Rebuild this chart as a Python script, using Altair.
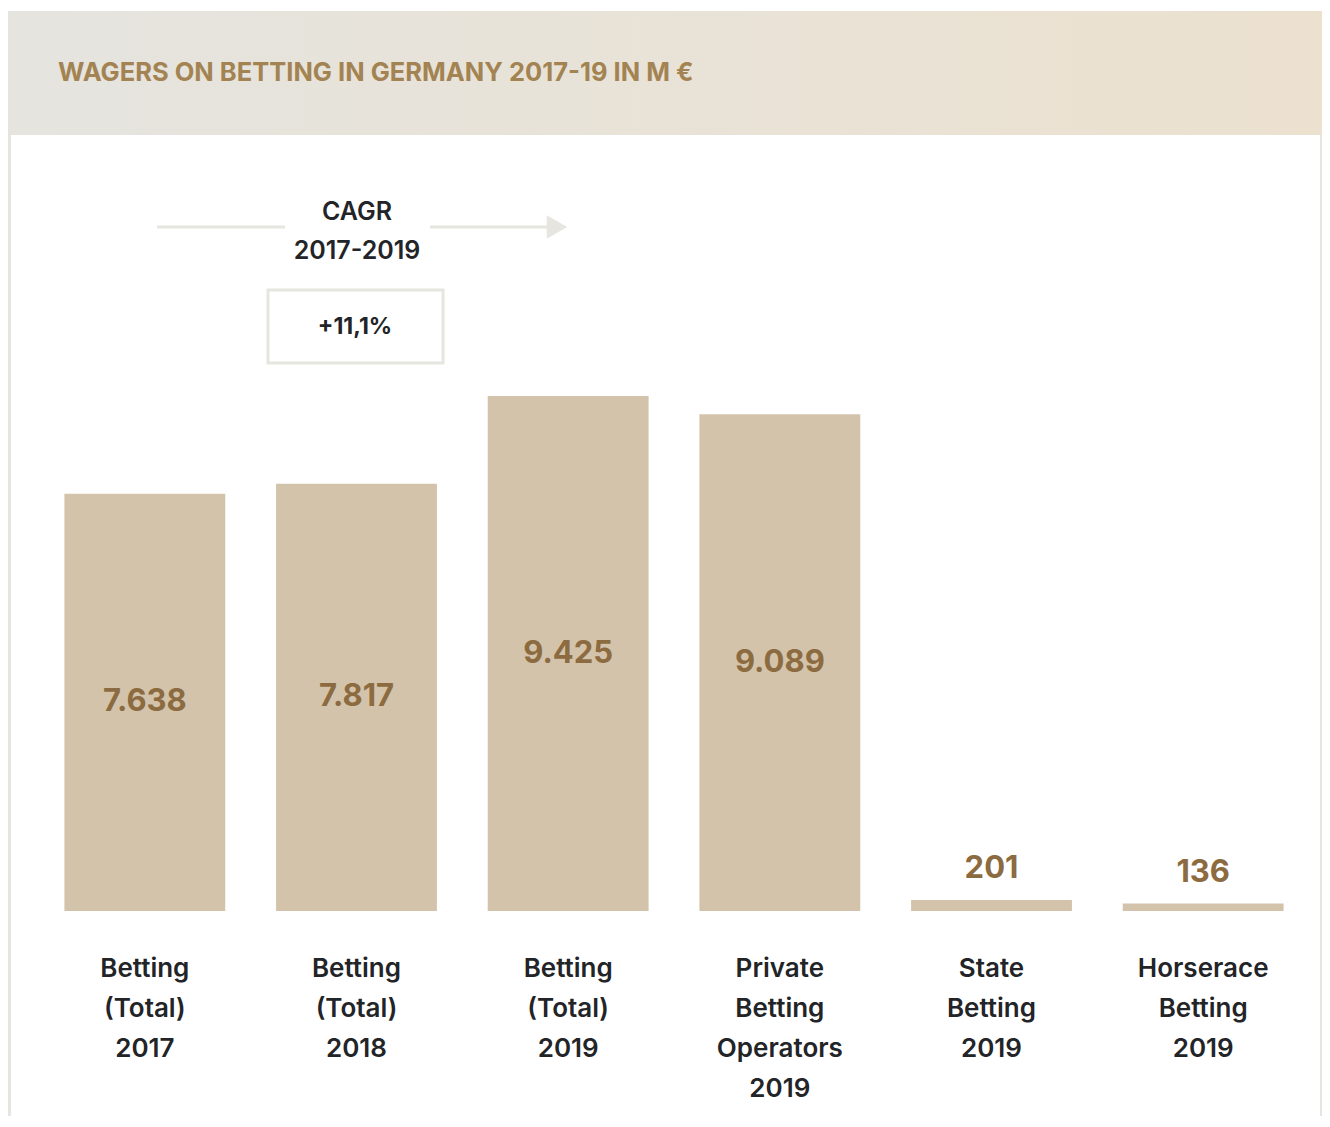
import altair as alt
import pandas as pd

# ---- data ----
categories = [
    "Betting\n(Total)\n2017",
    "Betting\n(Total)\n2018",
    "Betting\n(Total)\n2019",
    "Private\nBetting\nOperators\n2019",
    "State\nBetting\n2019",
    "Horserace\nBetting\n2019",
]
values = [7638, 7817, 9425, 9089, 201, 136]
title_text = "WAGERS ON BETTING IN GERMANY 2017-19 IN M €"
cagr_title = "CAGR"
cagr_period = "2017-2019"
cagr_value = "+11,1%"

df = pd.DataFrame({"cat": categories, "value": values})

W, H = 1314, 1108
FONT = "Inter"
BAR = "#d3c3ab"
VAL = "#8b6b3f"
DARK = "#222427"
LINE = "#e6e5e0"

xenc = alt.X(
    "cat:N",
    sort=categories,
    axis=None,
    scale=alt.Scale(range=[31, 1301], paddingInner=0.24, paddingOuter=0.12, round=False),
)
yscale = alt.Scale(domain=[0, 9425], range=[903, 388], nice=False, zero=True)

base = alt.Chart(df)

bars = base.mark_bar(color=BAR).encode(
    x=xenc,
    y=alt.Y("value:Q", scale=yscale, axis=None),
)

big_labels = (
    base.transform_filter("datum.value >= 1000")
    .transform_calculate(
        mid="datum.value / 2",
        lbl="replace(format(datum.value, ','), ',', '.')",
    )
    .mark_text(font=FONT, fontSize=31, fontWeight=700, color=VAL, baseline="middle", align="center")
    .encode(x=xenc, y=alt.Y("mid:Q", scale=yscale, axis=None), text="lbl:N")
)

small_labels = (
    base.transform_filter("datum.value < 1000")
    .transform_calculate(lbl="replace(format(datum.value, ','), ',', '.')")
    .mark_text(font=FONT, fontSize=31, fontWeight=700, color=VAL, baseline="middle", align="center", dy=-31)
    .encode(x=xenc, y=alt.Y("value:Q", scale=yscale, axis=None), text="lbl:N")
)

cat_labels = (
    base.transform_calculate(lines="split(datum.cat, '\\n')")
    .mark_text(font=FONT, fontSize=26, fontWeight=600, color=DARK, baseline="alphabetic",
               align="center", lineHeight=40)
    .encode(x=xenc, y=alt.value(969), text="lines:N")
)

one = alt.Data(values=[{}])

header = alt.Chart(one).mark_rect(
    color=alt.Gradient(
        gradient="linear",
        stops=[alt.GradientStop(color="#e5e4df", offset=0),
               alt.GradientStop(color="#ece1cf", offset=1)],
        x1=0, x2=1, y1=0, y2=0,
    )
).encode(x=alt.value(0), x2=alt.value(W), y=alt.value(3), y2=alt.value(127))

title = alt.Chart(pd.DataFrame({"t": [title_text]})).mark_text(
    font=FONT, fontSize=25.5, fontWeight=700, color="#a38352", align="left", baseline="middle",
).encode(x=alt.value(50), y=alt.value(65), text="t:N")

left_border = alt.Chart(one).mark_rule(color=LINE, strokeWidth=3).encode(
    x=alt.value(1.5), y=alt.value(127), y2=alt.value(H)
)
right_border = alt.Chart(one).mark_rule(color=LINE, strokeWidth=2).encode(
    x=alt.value(W - 1), y=alt.value(127), y2=alt.value(H)
)

arrow_l = alt.Chart(one).mark_rule(color=LINE, strokeWidth=3).encode(
    x=alt.value(149), x2=alt.value(277), y=alt.value(219)
)
arrow_r = alt.Chart(one).mark_rule(color=LINE, strokeWidth=3).encode(
    x=alt.value(422), x2=alt.value(542), y=alt.value(219)
)
arrow_head = alt.Chart(one).mark_point(
    shape="triangle-right", filled=True, color=LINE, opacity=1, size=560
).encode(x=alt.value(549), y=alt.value(219))

cagr_text = alt.Chart(pd.DataFrame({"t": [cagr_title, cagr_period], "yy": [204, 243]})).mark_text(
    font=FONT, fontSize=25, fontWeight=600, color=DARK, align="center", baseline="middle"
).encode(x=alt.value(349), y=alt.Y("yy:Q", scale=None), text="t:N")

box = alt.Chart(one).mark_rect(fill="white", stroke=LINE, strokeWidth=3).encode(
    x=alt.value(260), x2=alt.value(435), y=alt.value(282), y2=alt.value(355)
)
box_text = alt.Chart(pd.DataFrame({"t": [cagr_value]})).mark_text(
    font=FONT, fontSize=23, fontWeight=700, color=DARK, align="center", baseline="middle"
).encode(x=alt.value(347), y=alt.value(319), text="t:N")

chart = alt.layer(
    header, title, left_border, right_border,
    arrow_l, arrow_r, arrow_head, cagr_text, box, box_text,
    bars, big_labels, small_labels, cat_labels,
).resolve_scale(y="independent").properties(
    width=W, height=H, padding=0, autosize=alt.AutoSizeParams(type="none"),
    background="white",
).configure_view(stroke=None)

chart.save("out.html", embed_options={"renderer": "svg", "actions": False})
